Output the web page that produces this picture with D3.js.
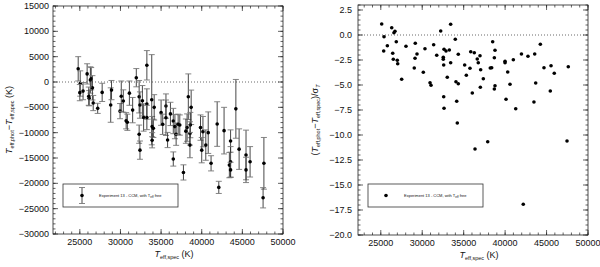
<!DOCTYPE html>
<html>
<head>
<meta charset="utf-8">
<script src="https://cdn.jsdelivr.net/npm/d3@7"></script>
<style>
  body { margin: 0; background: #fff; }
  text { font-family: "Liberation Sans", Arial, sans-serif; fill: #111; }
</style>
</head>
<body>
<svg id="chart" width="600" height="267"></svg>
<script>
// ---- data ----
// left panel: Teff,phot - Teff,spec with error bars
var leftTeff = [24800, 25050, 25000, 25400, 25900, 26150, 26300, 26400, 26550, 26100,
  26650, 27200, 27750, 28800, 28900, 29950, 30100, 30350, 30700, 30850,
  31100, 31500, 31950, 32300, 32400, 32300, 32700, 32850, 33250, 33250,
  33250, 33850, 33900, 34050, 34150, 33900, 35000, 35200, 35600, 35600,
  36150, 36500, 36700, 36850, 35800, 37100, 38350, 38700, 38200, 38050,
  38600, 38550, 39850, 40150, 40800, 41900, 42750, 43550, 44200, 37300,
  32400, 36500, 37750, 38550, 40000, 40500, 41150, 42100, 43400, 43550,
  43550, 44600, 45450, 45450, 45950, 47650, 47550];
var leftDiff = [2600, -300, -2100, -1800, 1600, -3200, 400, 650, -1150, -2800,
  -4150, -5200, -2050, -4550, -1600, -5750, -2800, -3750, -7650, -7950,
  -2200, -5550, 850, -2900, -4550, -10300, -3700, -7000, 3300, -4350,
  -7000, -3500, -8800, -9150, -5000, -11500, -6050, -8350, -4750, -7050,
  -6300, -7700, -8800, -10300, -11450, -8350, -2900, -5000, -9000, -9700,
  -8500, -10150, -9000, -9800, -10000, -8300, -9600, -11650, -5300, -8500,
  -13450, -15200, -17850, -12450, -13450, -12450, -16050, -20800, -16400, -15750,
  -17350, -13250, -14400, -17350, -15750, -16050, -22850];
var leftErr = [2400, 2500, 1600, 1700, 2000, 1500, 2600, 2200, 2400, 1800,
  1500, 1000, 1800, 3400, 1900, 1500, 3000, 2200, 1600, 1600,
  2400, 2500, 1800, 3200, 2600, 1800, 3000, 2700, 2900, 3000,
  2400, 8900, 2000, 1800, 2500, 1500, 2500, 2000, 2400, 3500,
  2300, 2500, 2400, 2200, 1500, 2000, 4500, 3400, 2700, 2400,
  2500, 2300, 2500, 3000, 4100, 4400, 4600, 2200, 5800, 2000,
  1800, 1400, 1500, 2500, 2500, 3000, 1500, 1200, 2500, 3000,
  1500, 4000, 4900, 2500, 3000, 5100, 2000];

// right panel: (Teff,phot - Teff,spec) / sigma_T
var rightTeff = [25110, 25390, 25350, 25790, 26320, 26590, 26710, 26440, 26870, 26510,
  26990, 27040, 27520, 28040, 29160, 29130, 29040, 29370, 30330, 30130,
  30940, 31060, 31380, 31750, 32230, 32540, 32540, 32630, 32870, 32590,
  33020, 32590, 32630, 33270, 33430, 33990, 34350, 33430, 35120, 35320,
  35760, 35850, 36280, 36640, 36760, 36970, 37050, 37370, 34070, 34350,
  36040, 37010, 34160, 34230, 38210, 38380, 38500, 38780, 38700, 38780,
  38700, 39990, 39990, 40310, 40590, 40110, 40990, 41280, 41970, 42760,
  43570, 44250, 43690, 43480, 44690, 45540, 45930, 45450, 47620, 36370,
  37900, 47470, 42190];
var rightRatio = [1.1, -0.17, -1.6, -1.07, 0.73, 0.23, 0.37, -1.83, -0.67, -2.43,
  -2.53, -2.87, -4.43, -1.13, -0.83, -2.33, -3.3, -1.9, -1.37, -3.73,
  -4.77, -5.03, -0.97, -2.03, 0.4, -2.23, -2.43, -1.43, -1.6, -3.0,
  -4.23, -6.17, -7.33, -1.5, 1.07, -0.43, -1.93, -2.77, -3.0, -4.03,
  -3.33, -1.67, -1.77, -2.4, -2.77, -2.07, -3.47, -4.37, -4.67, -4.87,
  -5.8, -5.23, -6.63, -8.8, -3.3, -3.27, -0.67, -1.53, -2.27, -5.07,
  -5.4, -2.63, -2.77, -3.7, -4.93, -6.43, -2.47, -7.37, -1.9, -2.13,
  -1.9, -0.93, -4.8, -6.7, -3.27, -3.07, -3.83, -5.6, -3.17, -11.4,
  -10.67, -10.6, -16.93];

// tick values
var xTicks = [25000, 30000, 35000, 40000, 45000, 50000];
var leftYTicks = [-30000, -25000, -20000, -15000, -10000, -5000, 0, 5000, 10000, 15000];
var rightYTicks = [-20, -17.5, -15, -12.5, -10, -7.5, -5, -2.5, 0, 2.5];
var legendText = "Experiment 13 - CCM, with T";

var svg = d3.select("#chart");

// draw one framed panel with ticks on all four sides
function drawPanel(p) {
  var x = d3.scaleLinear().domain(p.xDomain).range([p.left, p.right]);
  var y = d3.scaleLinear().domain(p.yDomain).range([p.bottom, p.top]);
  var g = svg.append("g");

  g.append("rect")
    .attr("x", p.left).attr("y", p.top)
    .attr("width", p.right - p.left).attr("height", p.bottom - p.top)
    .attr("fill", "none").attr("stroke", "#222").attr("stroke-width", 0.8);

  var xMinor = d3.range(Math.ceil(p.xDomain[0] / 1000) * 1000, p.xDomain[1] + 1, 1000);
  var yMinor = d3.range(p.yMinorStart, p.yDomain[1] + p.yMinor / 2, p.yMinor);

  function ticksX(vals, len) {
    vals.forEach(function(v) {
      g.append("line").attr("x1", x(v)).attr("x2", x(v))
        .attr("y1", p.bottom).attr("y2", p.bottom - len)
        .attr("stroke", "#222").attr("stroke-width", 0.7);
      g.append("line").attr("x1", x(v)).attr("x2", x(v))
        .attr("y1", p.top).attr("y2", p.top + len)
        .attr("stroke", "#222").attr("stroke-width", 0.7);
    });
  }
  function ticksY(vals, len) {
    vals.forEach(function(v) {
      g.append("line").attr("y1", y(v)).attr("y2", y(v))
        .attr("x1", p.left).attr("x2", p.left + len)
        .attr("stroke", "#222").attr("stroke-width", 0.7);
      g.append("line").attr("y1", y(v)).attr("y2", y(v))
        .attr("x1", p.right).attr("x2", p.right - len)
        .attr("stroke", "#222").attr("stroke-width", 0.7);
    });
  }
  ticksX(xMinor, 2.5);
  ticksX(xTicks, 5);
  ticksY(yMinor, 2.5);
  ticksY(p.yTicks, 5);

  // tick labels
  g.selectAll(".xl").data(xTicks).enter().append("text")
    .attr("x", function(d) { return x(d); })
    .attr("y", p.bottom + 11)
    .attr("text-anchor", "middle")
    .style("font-size", "9px")
    .text(function(d) { return d; });

  g.selectAll(".yl").data(p.yTicks).enter().append("text")
    .attr("x", p.left - p.labelGap)
    .attr("y", function(d) { return y(d); })
    .attr("dy", "0.35em")
    .attr("text-anchor", "end")
    .style("font-size", "9px")
    .text(p.yFormat);

  // dotted zero line
  g.append("line")
    .attr("x1", p.left).attr("x2", p.right)
    .attr("y1", y(0)).attr("y2", y(0))
    .attr("stroke", "#444").attr("stroke-width", 0.8)
    .attr("stroke-dasharray", "1,2");

  // x label
  var xl = g.append("text")
    .attr("x", (p.left + p.right) / 2 + 6)
    .attr("y", p.bottom + 23)
    .attr("text-anchor", "middle")
    .style("font-size", "9px");
  xl.append("tspan").style("font-style", "italic").text("T");
  xl.append("tspan").attr("dy", 2).style("font-size", "5.5px").text("eff,spec");
  xl.append("tspan").attr("dy", -2).text(" (K)");

  // legend box
  var lg = g.append("g");
  lg.append("rect")
    .attr("x", p.left + 10).attr("y", 184)
    .attr("width", 115).attr("height", 23)
    .attr("fill", "#fff").attr("stroke", "#333").attr("stroke-width", 0.8);
  var lt = lg.append("text")
    .attr("x", p.left + 46).attr("y", 197)
    .style("font-size", "4px");
  lt.append("tspan").text(legendText);
  lt.append("tspan").attr("dy", 1).style("font-size", "3px").text("eff");
  lt.append("tspan").attr("dy", -1).text(" free");

  return { x: x, y: y, g: g, lg: lg };
}

// ---- left panel ----
var L = drawPanel({
  left: 53, right: 283, top: 6, bottom: 234,
  xDomain: [21700, 50000], yDomain: [-30000, 15000],
  yTicks: leftYTicks, yMinor: 1000, yMinorStart: -30000,
  labelGap: 4,
  yFormat: function(d) { return d3.format("d")(d); }
});

var leftData = leftTeff.map(function(t, i) {
  return { t: t, v: leftDiff[i], e: leftErr[i] };
});

var eb = L.g.append("g").selectAll("g").data(leftData).enter().append("g");
eb.append("line")
  .attr("x1", function(d) { return L.x(d.t); })
  .attr("x2", function(d) { return L.x(d.t); })
  .attr("y1", function(d) { return L.y(d.v - d.e); })
  .attr("y2", function(d) { return L.y(d.v + d.e); })
  .attr("stroke", "#333").attr("stroke-width", 0.9);
[-1, 1].forEach(function(s) {
  eb.append("line")
    .attr("x1", function(d) { return L.x(d.t) - 3; })
    .attr("x2", function(d) { return L.x(d.t) + 3; })
    .attr("y1", function(d) { return L.y(d.v + s * d.e); })
    .attr("y2", function(d) { return L.y(d.v + s * d.e); })
    .attr("stroke", "#777").attr("stroke-width", 0.9);
});
eb.append("circle")
  .attr("cx", function(d) { return L.x(d.t); })
  .attr("cy", function(d) { return L.y(d.v); })
  .attr("r", 1.8)
  .attr("fill", "#000");

// legend marker with error bar
L.lg.append("line").attr("x1", 82).attr("x2", 82).attr("y1", 187.5).attr("y2", 203.5)
  .attr("stroke", "#333").attr("stroke-width", 0.9);
L.lg.append("line").attr("x1", 79).attr("x2", 85).attr("y1", 187.5).attr("y2", 187.5)
  .attr("stroke", "#777").attr("stroke-width", 0.9);
L.lg.append("line").attr("x1", 79).attr("x2", 85).attr("y1", 203.5).attr("y2", 203.5)
  .attr("stroke", "#777").attr("stroke-width", 0.9);
L.lg.append("circle").attr("cx", 82).attr("cy", 195.5).attr("r", 1.8).attr("fill", "#000");

// y label (left)
var yl1 = svg.append("text")
  .attr("transform", "translate(12,120) rotate(-90)")
  .attr("text-anchor", "middle")
  .style("font-size", "9px");
yl1.append("tspan").style("font-style", "italic").text("T");
yl1.append("tspan").attr("dy", 2).style("font-size", "5.5px").text("eff,phot");
yl1.append("tspan").attr("dy", -2).text("\u2212");
yl1.append("tspan").style("font-style", "italic").text("T");
yl1.append("tspan").attr("dy", 2).style("font-size", "5.5px").text("eff,spec");
yl1.append("tspan").attr("dy", -2).text(" (K)");

// ---- right panel ----
var R = drawPanel({
  left: 358, right: 588, top: 5, bottom: 235,
  xDomain: [22250, 50000], yDomain: [-20, 3],
  yTicks: rightYTicks, yMinor: 0.5, yMinorStart: -20,
  labelGap: 6,
  yFormat: function(d) { return d3.format(".1f")(d); }
});

R.g.append("g").selectAll("circle")
  .data(rightTeff.map(function(t, i) { return { t: t, v: rightRatio[i] }; }))
  .enter().append("circle")
    .attr("cx", function(d) { return R.x(d.t); })
    .attr("cy", function(d) { return R.y(d.v); })
    .attr("r", 1.8)
    .attr("fill", "#000");

R.lg.append("circle").attr("cx", 386).attr("cy", 195.5).attr("r", 1.8).attr("fill", "#000");

// y label (right)
var yl2 = svg.append("text")
  .attr("transform", "translate(318,120) rotate(-90)")
  .attr("text-anchor", "middle")
  .style("font-size", "9px");
yl2.append("tspan").text("(");
yl2.append("tspan").style("font-style", "italic").text("T");
yl2.append("tspan").attr("dy", 2).style("font-size", "5.5px").text("eff,phot");
yl2.append("tspan").attr("dy", -2).text("\u2212");
yl2.append("tspan").style("font-style", "italic").text("T");
yl2.append("tspan").attr("dy", 2).style("font-size", "5.5px").text("eff,spec");
yl2.append("tspan").attr("dy", -2).text(")/\u03c3");
yl2.append("tspan").attr("dy", 2).style("font-size", "5.5px").style("font-style", "italic").text("T");
</script>
</body>
</html>
